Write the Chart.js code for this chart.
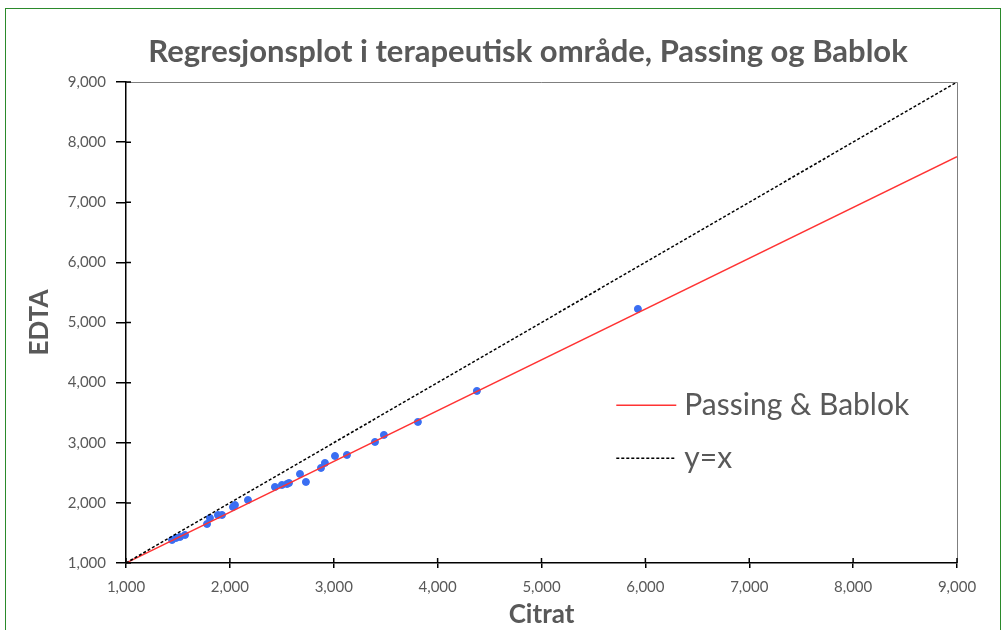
<!DOCTYPE html>
<html>
<head>
<meta charset="utf-8">
<script src="https://cdn.jsdelivr.net/npm/chart.js@4.4.1/dist/chart.umd.min.js"></script>
<style>
    html, body { margin: 0; padding: 0; background: #fff; }
    #wrap { position: relative; width: 1008px; height: 630px; overflow: hidden; }
    #frame { position: absolute; left: 5px; top: 8px; width: 996px; height: 660px; border: 1.5px solid #2b8a2b; box-sizing: border-box; pointer-events: none; }
</style>
</head>
<body>
<div id="wrap">
    <canvas id="chart" width="1008" height="630"></canvas>
    <div id="frame"></div>
</div>
<script>
// measured sample pairs (Citrat, EDTA)
var citrat = [1443, 1481, 1520, 1568, 1780, 1808, 1885, 1924, 2030, 2049, 2174, 2434, 2501, 2550, 2569, 2675, 2732, 2877, 2915, 3012, 3127, 3397, 3483, 3810, 4378, 5928];
var edta   = [1383, 1416, 1433, 1466, 1649, 1749, 1799, 1799, 1932, 1965, 2048, 2265, 2298, 2314, 2331, 2481, 2348, 2581, 2664, 2780, 2797, 3013, 3130, 3346, 3862, 5226];

// Passing & Bablok regression line end points
var regX = [1000, 9000];
var regY = [1000, 7760];

// identity line
var idX = [1000, 9000];
var idY = [1000, 9000];

var axisMin = 1000;
var axisMax = 9000;
var axisStep = 1000;

var chartTitle = 'Regresjonsplot i terapeutisk område, Passing og Bablok';
var legendLabels = ['Passing & Bablok', 'y=x'];

var textColor = '#595959';
var fontFamily = 'Lato, "Open Sans", sans-serif';

function toPoints(xs, ys) {
    var pts = [];
    for (var i = 0; i < xs.length; i++) {
        pts.push({x: xs[i], y: ys[i]});
    }
    return pts;
}

// title drawn by hand so it can sit a bit left of the plot centre
var topTitle = {
    id: 'topTitle',
    afterDraw: function(chart) {
        var ctx = chart.ctx;
        ctx.save();
        ctx.font = 'bold 31px ' + fontFamily;
        ctx.fillStyle = textColor;
        ctx.textAlign = 'center';
        ctx.textBaseline = 'middle';
        ctx.fillText(chartTitle, 528, 52);
        ctx.restore();
    }
};

// border of the plot area and the small tick stubs inside the axes
var plotFrame = {
    id: 'plotFrame',
    afterDraw: function(chart) {
        var ctx = chart.ctx;
        var a = chart.chartArea;
        ctx.save();
        ctx.strokeStyle = '#7f7f7f';
        ctx.lineWidth = 1;
        ctx.beginPath();
        ctx.moveTo(a.left, a.top + 0.5);
        ctx.lineTo(a.right + 0.5, a.top + 0.5);
        ctx.lineTo(a.right + 0.5, a.bottom);
        ctx.stroke();

        ctx.strokeStyle = '#000';
        ctx.lineWidth = 1.5;
        ctx.beginPath();
        chart.scales.x.ticks.forEach(function(t) {
            var px = chart.scales.x.getPixelForValue(t.value);
            ctx.moveTo(px, a.bottom);
            ctx.lineTo(px, a.bottom - 5);
        });
        chart.scales.y.ticks.forEach(function(t) {
            var py = chart.scales.y.getPixelForValue(t.value);
            ctx.moveTo(a.left, py);
            ctx.lineTo(a.left + 5, py);
        });
        ctx.stroke();
        ctx.restore();
    }
};

// legend sits inside the plot, lower right
var innerLegend = {
    id: 'innerLegend',
    afterDraw: function(chart) {
        var ctx = chart.ctx;
        var a = chart.chartArea;
        var x0 = a.left + (a.right - a.left) * 0.590;
        var y0 = a.top + (a.bottom - a.top) * 0.672;
        var rowGap = 53;
        ctx.save();
        ctx.font = '30px ' + fontFamily;
        ctx.fillStyle = textColor;
        ctx.textBaseline = 'middle';

        ctx.strokeStyle = '#ff3333';
        ctx.lineWidth = 1.5;
        ctx.beginPath();
        ctx.moveTo(x0, y0);
        ctx.lineTo(x0 + 60, y0);
        ctx.stroke();
        ctx.fillText(legendLabels[0], x0 + 68, y0);

        ctx.strokeStyle = '#000';
        ctx.setLineDash([3, 2]);
        ctx.beginPath();
        ctx.moveTo(x0, y0 + rowGap);
        ctx.lineTo(x0 + 60, y0 + rowGap);
        ctx.stroke();
        ctx.fillText(legendLabels[1], x0 + 68, y0 + rowGap);
        ctx.restore();
    }
};

var tickFormat = function(value) {
    return value.toLocaleString('en-US');
};

new Chart(document.getElementById('chart').getContext('2d'), {
    type: 'scatter',
    data: {
        datasets: [
            {
                label: legendLabels[1],
                data: toPoints(idX, idY),
                showLine: true,
                borderColor: '#000',
                borderWidth: 1.5,
                borderDash: [3, 2],
                pointRadius: 0
            },
            {
                label: legendLabels[0],
                data: toPoints(regX, regY),
                showLine: true,
                borderColor: '#ff3333',
                borderWidth: 1.5,
                pointRadius: 0
            },
            {
                label: 'Data',
                data: toPoints(citrat, edta),
                backgroundColor: '#3a6ef2',
                borderColor: '#3a6ef2',
                pointRadius: 3.5,
                pointHoverRadius: 3.5
            }
        ]
    },
    options: {
        responsive: false,
        animation: false,
        layout: {
            padding: {left: 0, right: 51, top: 82, bottom: 0}
        },
        plugins: {
            legend: {display: false},
            tooltip: {enabled: false},
            title: {display: false}
        },
        scales: {
            x: {
                type: 'linear',
                min: axisMin,
                max: axisMax,
                ticks: {
                    stepSize: axisStep,
                    color: textColor,
                    font: {family: fontFamily, size: 15},
                    padding: 10,
                    maxRotation: 0,
                    callback: tickFormat
                },
                grid: {drawOnChartArea: false, tickLength: 5, color: '#000', lineWidth: 1.5},
                border: {color: '#000', width: 1.5},
                title: {
                    display: true,
                    text: 'Citrat',
                    color: textColor,
                    font: {family: fontFamily, size: 26, weight: 'bold'},
                    padding: {top: 0, bottom: 0}
                },
                afterFit: function(scale) { scale.height = 67; }
            },
            y: {
                type: 'linear',
                min: axisMin,
                max: axisMax,
                ticks: {
                    stepSize: axisStep,
                    color: textColor,
                    font: {family: fontFamily, size: 15},
                    padding: 10,
                    callback: tickFormat
                },
                grid: {drawOnChartArea: false, tickLength: 10, color: '#000', lineWidth: 1.5},
                border: {color: '#000', width: 1.5},
                title: {
                    display: true,
                    text: 'EDTA',
                    color: textColor,
                    font: {family: fontFamily, size: 26, weight: 'bold'},
                    padding: {top: 24, bottom: 0}
                },
                afterFit: function(scale) { scale.width = 126; }
            }
        }
    },
    plugins: [topTitle, plotFrame, innerLegend]
});
</script>
</body>
</html>
